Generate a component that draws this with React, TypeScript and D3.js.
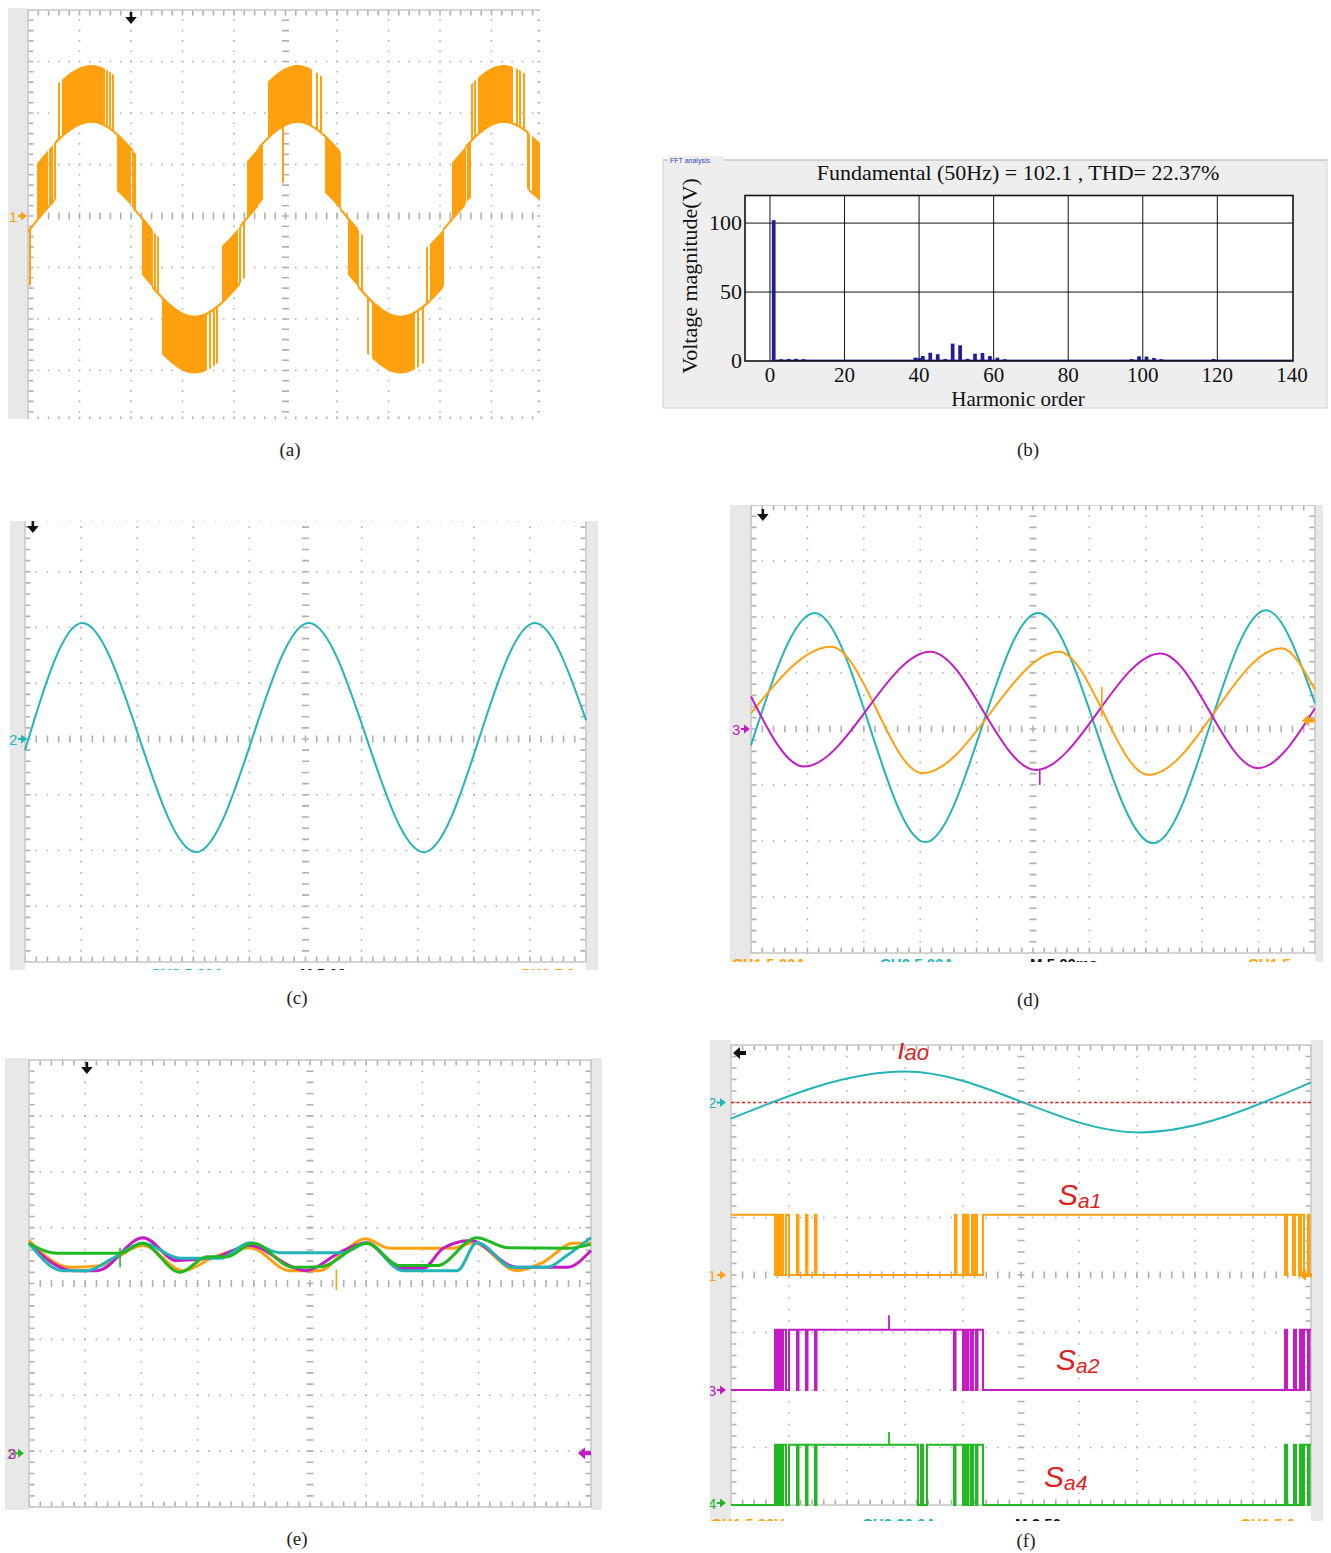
import React from 'react';
import * as d3 from 'd3';

const ORANGE = '#ffa10f';
const CYAN = '#22b5b8';
const MAGENTA = '#c41cc4';
const GREEN = '#22b822';
const RED = '#dd1f1f';
const NAVY = '#1e1e96';
const GRID = '#b0b0b0';
const FRAME = '#c6c6c6';
const STRIP = '#e8e8e8';
const SERIF = '"Liberation Serif", "Times New Roman", serif';
const SANS = '"Liberation Sans", Arial, sans-serif';

// all scope traces are in screen divisions: time 0..10, value -4..4
// sinusoid-like traces are given by their end points and extrema

// (a) multilevel output voltage
const aRipple = [[0, -0.3], [1.234, 0.73], [3.234, -0.86], [5.234, 0.73], [7.234, -0.86], [9.234, 0.73], [10, 0.27]];
const aStep = 1.1;
const aRest = [[0, 0], [0.52, 1], [2.04, 0], [2.41, -1], [4.12, 0], [4.47, 1], [6.06, 0], [6.41, -1], [8.06, 0], [8.49, 1], [9.73, 0]];
const aBursts = [[0.175, 0.388, 0], [0.66, 1.495, 1], [1.728, 2.0, 0], [2.214, 2.408, -1], [2.602, 3.476, -2], [3.767, 4.078, -1], [4.252, 4.466, 0], [4.66, 5.515, 1], [5.767, 6.058, 0], [6.214, 6.408, -1], [6.68, 7.515, -2], [7.806, 8.058, -1], [8.233, 8.485, 0], [8.738, 9.417, 1], [9.786, 9.94, 0]];
const aPulses = [[0.039, -1], [0.427, 0], [0.466, 0], [0.524, 0], [0.602, 1], [1.534, 1], [1.592, 1], [1.65, 1], [2.039, 0], [2.078, 0], [2.466, -1], [2.524, -1], [3.534, -2], [3.612, -2], [3.67, -2], [4.117, -1], [4.194, -1], [4.505, 0], [4.544, 0], [4.951, 0], [5.612, 1], [5.689, 1], [6.485, -1], [6.602, -2], [7.573, -2], [7.67, -2], [7.748, -1], [8.544, 0], [8.583, 0], [8.621, 1], [8.68, 1], [9.495, 1], [9.553, 1], [9.631, 1], [9.709, 0]];

// (b) FFT spectrum
const fftOrders = [1, 3, 5, 7, 9, 39, 40, 41, 43, 45, 47, 49, 51, 53, 55, 57, 59, 61, 63, 97, 99, 101, 103, 105, 119];
const fftMags = [102.1, 1.3, 1.5, 1.6, 1.3, 2.4, 2.2, 3.6, 6.0, 4.9, 1.5, 12.6, 11.4, 1.6, 5.3, 5.8, 3.6, 2.4, 1.3, 1.4, 3.4, 3.2, 2.2, 1.3, 1.5];
const fftFloor = 1.0;
const fftXTicks = [0, 20, 40, 60, 80, 100, 120, 140];
const fftYTicks = [0, 50, 100];

// (c) load current
const cCurrent = [[0, -0.2], [1.02, 2.08], [3.05, -2.03], [5.06, 2.08], [7.11, -2.03], [9.09, 2.08], [10, 0.34]];

// (d) three traces
const dCyan = [[0, -0.29], [1.13, 2.07], [3.09, -2.02], [5.09, 2.07], [7.13, -2.04], [9.13, 2.12], [10, 0.46]];
const dOrange = [[0, 0.28], [1.42, 1.47], [3.04, -0.79], [5.46, 1.38], [7.05, -0.82], [9.4, 1.44], [10, 0.7]];
const dMagenta = [[0, 0.58], [0.94, -0.67], [3.18, 1.38], [5.05, -0.73], [7.26, 1.35], [8.99, -0.7], [10, 0.37]];
const dOrangeSpikes = [[6.22, 0.22, 0.75]];
const dMagentaSpikes = [[5.12, -0.72, -1.0]];

// (e) four capacitor traces
const eOrange = [[0, 0.77], [0.73, 0.29], [1.26, 0.32], [2.03, 0.68], [2.74, 0.23], [3.31, 0.48], [3.93, 0.64], [4.64, 0.23], [5.18, 0.23], [5.62, 0.59], [5.98, 0.8], [6.42, 0.63], [7.54, 0.63], [7.9, 0.73], [8.68, 0.23], [9.15, 0.38], [9.68, 0.72], [10, 0.72]];
const eMagenta = [[0, 0.72], [0.78, 0.23], [1.21, 0.23], [2.03, 0.82], [2.63, 0.41], [3.31, 0.47], [3.93, 0.68], [4.7, 0.29], [4.91, 0.23], [5.59, 0.59], [6.01, 0.73], [6.6, 0.27], [7.01, 0.27], [7.37, 0.63], [7.85, 0.77], [8.68, 0.29], [9.57, 0.29], [10, 0.59]];
const eCyan = [[0, 0.72], [0.6, 0.23], [1.03, 0.23], [1.49, 0.45], [2.03, 0.72], [2.69, 0.45], [3.4, 0.45], [3.93, 0.73], [4.47, 0.55], [5.59, 0.55], [6.01, 0.72], [6.65, 0.23], [7.62, 0.23], [7.97, 0.73], [8.61, 0.29], [9.22, 0.29], [9.57, 0.5], [10, 0.82]];
const eGreen = [[0, 0.72], [0.5, 0.54], [1.62, 0.54], [2.01, 0.72], [2.69, 0.2], [3.17, 0.48], [3.52, 0.48], [3.99, 0.72], [4.7, 0.29], [5.18, 0.3], [6.01, 0.72], [6.6, 0.32], [7.26, 0.32], [7.97, 0.82], [8.51, 0.64], [9.57, 0.63], [10, 0.7]];
const eOrangeSpikes = [[5.47, 0.25, -0.12]];
const eGreenSpikes = [[1.62, 0.64, 0.29]];
const eGround = -3.04;

// (f) current and gate signals
const fCurrent = [[0, -0.28], [3.0, 0.54], [7.03, -0.52], [10, 0.35]];
const fIaoRef = 3.0;
const fHigh = 1.05;
const fSa1Edges = [0.759, 0.793, 0.828, 0.862, 0.897, 0.948, 1.0, 1.138, 1.164, 1.293, 1.319, 1.448, 1.474, 3.862, 3.888, 4.0, 4.034, 4.069, 4.095, 4.155, 4.19, 4.216, 4.241, 4.345, 9.552, 9.586, 9.69, 9.724, 9.793, 9.828, 9.879, 9.948, 9.974];
const fSa2Edges = [0.759, 0.793, 0.828, 0.862, 0.897, 0.948, 1.0, 1.138, 1.164, 1.293, 1.319, 1.448, 1.474, 3.845, 3.871, 4.0, 4.034, 4.069, 4.095, 4.138, 4.172, 4.224, 4.25, 4.345, 9.552, 9.586, 9.707, 9.741, 9.81, 9.845, 9.879, 9.948, 9.974];
const fSa4Edges = [0.759, 0.793, 0.828, 0.862, 0.897, 0.948, 1.0, 1.138, 1.164, 1.293, 1.319, 1.448, 1.474, 3.224, 3.276, 3.31, 3.379, 3.845, 3.871, 4.0, 4.034, 4.069, 4.095, 4.138, 4.172, 4.224, 4.25, 4.345, 9.552, 9.586, 9.707, 9.741, 9.81, 9.845, 9.879, 9.948, 9.974];
const fSa2Spikes = [[2.724, 0.25]];
const fSa4Spikes = [[2.724, 0.22]];

type Lin = d3.ScaleLinear<number, number>;
type Box = { x0: number; x1: number; y0: number; y1: number };

function Graticule({ x, y }: { x: Lin; y: Lin }) {
  const [gx0, gx1] = x.range();
  const [gy1, gy0] = y.range();
  const mx = (gx1 - gx0) / 50;
  const my = (gy1 - gy0) / 40;
  const dots = (m: number) => ({ strokeDasharray: `1.6 ${m - 1.6}`, strokeDashoffset: 0.8 });
  return (
    <g stroke={GRID}>
      {d3.range(1, 10).filter((c) => c !== 5).map((c) => (
        <line key={'c' + c} x1={x(c)} x2={x(c)} y1={gy0} y2={gy1} strokeWidth={1.6} {...dots(my)} />
      ))}
      {d3.range(-3, 4).filter((r) => r !== 0).map((r) => (
        <line key={'r' + r} x1={gx0} x2={gx1} y1={y(r)} y2={y(r)} strokeWidth={1.6} {...dots(mx)} />
      ))}
      <line x1={x(5)} x2={x(5)} y1={gy0} y2={gy1} strokeWidth={7} {...dots(my)} />
      <line x1={gx0} x2={gx1} y1={y(0)} y2={y(0)} strokeWidth={7} {...dots(mx)} />
      <line x1={gx0 + 3} x2={gx0 + 3} y1={gy0} y2={gy1} strokeWidth={5} {...dots(my)} />
      <line x1={gx1 - 3} x2={gx1 - 3} y1={gy0} y2={gy1} strokeWidth={5} {...dots(my)} />
      <line x1={gx0} x2={gx1} y1={gy0 + 3} y2={gy0 + 3} strokeWidth={5} {...dots(mx)} />
      <line x1={gx0} x2={gx1} y1={gy1 - 3} y2={gy1 - 3} strokeWidth={5} {...dots(mx)} />
      <rect x={gx0} y={gy0} width={gx1 - gx0} height={gy1 - gy0} fill="none" stroke={FRAME} strokeWidth={1.5} />
    </g>
  );
}

function Scope({ id, grid, view, strips, children }: { id: string; grid: Box; view: Box; strips: number[][]; children: (x: Lin, y: Lin) => React.ReactNode }) {
  const x = d3.scaleLinear().domain([0, 10]).range([grid.x0, grid.x1]);
  const y = d3.scaleLinear().domain([-4, 4]).range([grid.y1, grid.y0]);
  return (
    <g>
      <defs>
        <clipPath id={id}>
          <rect x={view.x0} y={view.y0} width={view.x1 - view.x0} height={view.y1 - view.y0} />
        </clipPath>
      </defs>
      <g clipPath={`url(#${id})`}>
        {strips.map(([a, b], i) => (
          <rect key={i} x={a} y={view.y0} width={b - a} height={view.y1 - view.y0} fill={STRIP} />
        ))}
        <Graticule x={x} y={y} />
        {children(x, y)}
      </g>
    </g>
  );
}

function ChMark({ x, y, label, color }: { x: number; y: number; label: string; color: string }) {
  return (
    <g fill={color}>
      <text x={x} y={y + 5.5} fontFamily={SANS} fontSize={15}>{label}</text>
      <path d={`M${x + 9} ${y - 1} h3 v-3.5 l6 4.5 l-6 4.5 v-3.5 h-3 z`} />
    </g>
  );
}

function LeftArrow({ x, y, color }: { x: number; y: number; color: string }) {
  return <path d={`M${x} ${y} l7 -6 v4 h6 v4 h-6 v4 z`} fill={color} />;
}

function Trigger({ x, y }: { x: number; y: number }) {
  return <path d={`M${x - 1.3} ${y} h2.6 v5 h4.5 l-5.8 7 l-5.8 -7 h4.5 z`} fill="#111" />;
}

function Footer({ items, y }: { items: [string, string, number][]; y: number }) {
  return (
    <g fontFamily={SANS} fontSize={15} fontWeight="bold">
      {items.map(([t, c, x], i) => (
        <text key={i} x={x} y={y} fill={c}>{t}</text>
      ))}
    </g>
  );
}

const traceLine = (x: Lin, y: Lin, off = 0) =>
  d3.line<number[]>().x((d) => x(d[0])).y((d) => y(d[1] + off)).curve(d3.curveMonotoneX);

function PanelA() {
  return (
    <Scope id="a" grid={{ x0: 28, x1: 543, y0: 10, y1: 422 }} view={{ x0: 8, x1: 540, y0: 8, y1: 419 }} strips={[[8, 28]]}>
      {(x, y) => {
        const lvl = (k: number) => traceLine(x, y, k * aStep)(aRipple) || '';
        const band = (k: number) =>
          d3.area<number[]>().x((d) => x(d[0])).y0((d) => y(d[1] + k * aStep)).y1((d) => y(d[1] + (k + 1) * aStep)).curve(d3.curveMonotoneX)(aRipple) || '';
        const rests = aRest.map(([t, k], i) => [t, i + 1 < aRest.length ? aRest[i + 1][0] : 10, k]);
        const edges = aRest.slice(1).map(([t, k], i) => [t, Math.min(k, aRest[i][1])]);
        const pulses = aPulses.concat(edges);
        const h = 460;
        return (
          <g>
            <defs>
              {rests.map(([t0, t1], i) => (
                <clipPath key={i} id={`a-r${i}`}><rect x={x(t0)} y={0} width={x(t1) - x(t0)} height={h} /></clipPath>
              ))}
              {aBursts.map(([t0, t1], i) => (
                <clipPath key={i} id={`a-b${i}`}><rect x={x(t0)} y={0} width={x(t1) - x(t0)} height={h} /></clipPath>
              ))}
              {pulses.map(([t], i) => (
                <clipPath key={i} id={`a-p${i}`}><rect x={x(t) - 0.9} y={0} width={1.8} height={h} /></clipPath>
              ))}
            </defs>
            {rests.map(([, , k], i) => (
              <path key={i} d={lvl(k)} clipPath={`url(#a-r${i})`} fill="none" stroke={ORANGE} strokeWidth={2.2} />
            ))}
            {aBursts.map(([, , k], i) => (
              <path key={i} d={band(k)} clipPath={`url(#a-b${i})`} fill={ORANGE} />
            ))}
            {pulses.map(([, k], i) => (
              <path key={i} d={band(k)} clipPath={`url(#a-p${i})`} fill={ORANGE} />
            ))}
            <ChMark x={9} y={y(0)} label="1" color={ORANGE} />
            <Trigger x={x(2)} y={12} />
          </g>
        );
      }}
    </Scope>
  );
}

function PanelB() {
  const x = d3.scaleLinear().domain([-6.7, 140.3]).range([745, 1293]);
  const y = d3.scaleLinear().domain([0, 120]).range([361, 195.5]);
  const bw = x(1) - x(0);
  return (
    <g>
      <rect x={663} y={160} width={664} height={248} fill="#eeeeee" stroke="#d2d2d2" />
      <line x1={663} x2={1327} y1={160} y2={160} stroke="#bdbdbd" />
      <rect x={668} y={156} width={56} height={8} fill="#eeeeee" />
      <text x={670} y={163} fontFamily={SANS} fontSize={7} fill="#3344cc">FFT analysis</text>
      <text x={1018} y={180} textAnchor="middle" fontFamily={SERIF} fontSize={22} fill="#111">
        Fundamental (50Hz) = 102.1 , THD= 22.37%
      </text>
      <rect x={745} y={195.5} width={548} height={165.5} fill="#fff" />
      {fftXTicks.slice(0, -1).map((t) => (
        <line key={t} x1={x(t)} x2={x(t)} y1={195.5} y2={361} stroke="#111" strokeWidth={1} />
      ))}
      {fftYTicks.slice(1).map((t) => (
        <line key={t} x1={745} x2={1293} y1={y(t)} y2={y(t)} stroke="#111" strokeWidth={1} />
      ))}
      <rect x={x(1.5)} y={y(fftFloor)} width={x(140) - x(1.5)} height={y(0) - y(fftFloor)} fill={NAVY} />
      {fftOrders.map((h, i) => (
        <rect key={h} x={x(h) - bw / 2} y={y(fftMags[i])} width={bw} height={y(0) - y(fftMags[i])} fill={NAVY} />
      ))}
      <rect x={745} y={195.5} width={548} height={165.5} fill="none" stroke="#111" strokeWidth={1.6} />
      <g fontFamily={SERIF} fontSize={21} fill="#111">
        {fftXTicks.map((t) => (
          <text key={t} x={x(t)} y={382} textAnchor="middle">{t}</text>
        ))}
        {fftYTicks.map((t) => (
          <text key={t} x={742} y={y(t) + 7} textAnchor="end" fontSize={22}>{t}</text>
        ))}
        <text x={1018} y={406} textAnchor="middle">Harmonic order</text>
        <text transform="translate(697,276) rotate(-90)" textAnchor="middle" fontSize={22}>Voltage magnitude(V)</text>
      </g>
    </g>
  );
}

function PanelC() {
  return (
    <Scope id="c" grid={{ x0: 25, x1: 586, y0: 516, y1: 962 }} view={{ x0: 10, x1: 598, y0: 521, y1: 970 }} strips={[[10, 25], [586, 598]]}>
      {(x, y) => (
        <g>
          <path d={traceLine(x, y)(cCurrent) || ''} fill="none" stroke={CYAN} strokeWidth={2} />
          <ChMark x={9} y={y(0)} label="2" color={CYAN} />
          <Trigger x={x(0.14)} y={521} />
          <Footer y={979} items={[['CH2  5.00A', CYAN, 150], ['M 5.00ms', '#111', 300], ['CH1  5.0', ORANGE, 520]]} />
        </g>
      )}
    </Scope>
  );
}

function PanelD() {
  return (
    <Scope id="d" grid={{ x0: 751, x1: 1315, y0: 505, y1: 953 }} view={{ x0: 730, x1: 1323, y0: 505, y1: 962 }} strips={[[730, 751], [1315, 1323]]}>
      {(x, y) => {
        const ln = (d: number[][]) => traceLine(x, y)(d) || '';
        return (
          <g>
            <path d={ln(dCyan)} fill="none" stroke={CYAN} strokeWidth={2} />
            <path d={ln(dOrange)} fill="none" stroke={ORANGE} strokeWidth={2} />
            <path d={ln(dMagenta)} fill="none" stroke={MAGENTA} strokeWidth={2} />
            {dOrangeSpikes.map(([t, a, b], i) => (
              <line key={i} x1={x(t)} x2={x(t)} y1={y(a)} y2={y(b)} stroke={ORANGE} strokeWidth={1.6} />
            ))}
            {dMagentaSpikes.map(([t, a, b], i) => (
              <line key={i} x1={x(t)} x2={x(t)} y1={y(a)} y2={y(b)} stroke={MAGENTA} strokeWidth={1.6} />
            ))}
            <ChMark x={732} y={y(0)} label="3" color={MAGENTA} />
            <LeftArrow x={1302} y={y(0.15)} color={ORANGE} />
            <Trigger x={x(0.21)} y={509} />
            <Footer y={969} items={[['CH1  5.00A', ORANGE, 732], ['CH2  5.00A', CYAN, 880], ['M 5.00ms', '#111', 1030], ['CH1  5', ORANGE, 1248]]} />
          </g>
        );
      }}
    </Scope>
  );
}

function PanelE() {
  return (
    <Scope id="e" grid={{ x0: 29, x1: 591, y0: 1060, y1: 1507 }} view={{ x0: 5, x1: 602, y0: 1058, y1: 1510 }} strips={[[5, 29], [591, 602]]}>
      {(x, y) => {
        const ln = (d: number[][]) => traceLine(x, y)(d) || '';
        return (
          <g>
            <path d={ln(eOrange)} fill="none" stroke={ORANGE} strokeWidth={3} />
            {eOrangeSpikes.map(([t, a, b], i) => (
              <line key={i} x1={x(t)} x2={x(t)} y1={y(a)} y2={y(b)} stroke={ORANGE} strokeWidth={1.6} />
            ))}
            <path d={ln(eMagenta)} fill="none" stroke={MAGENTA} strokeWidth={3} />
            <path d={ln(eCyan)} fill="none" stroke={CYAN} strokeWidth={3} />
            <path d={ln(eGreen)} fill="none" stroke={GREEN} strokeWidth={3} />
            {eGreenSpikes.map(([t, a, b], i) => (
              <line key={i} x1={x(t)} x2={x(t)} y1={y(a)} y2={y(b)} stroke={GREEN} strokeWidth={1.6} />
            ))}
            <text x={6} y={y(eGround) + 5.5} fontFamily={SANS} fontSize={15} fill={ORANGE}>1</text>
            <text x={7} y={y(eGround) + 5.5} fontFamily={SANS} fontSize={15} fill={CYAN}>2</text>
            <text x={8} y={y(eGround) + 5.5} fontFamily={SANS} fontSize={15} fill={MAGENTA}>3</text>
            <path d={`M${15} ${y(eGround) - 1} h3 v-3.5 l6 4.5 l-6 4.5 v-3.5 h-3 z`} fill={GREEN} />
            <LeftArrow x={578} y={y(eGround)} color={MAGENTA} />
            <Trigger x={x(1.03)} y={1062} />
          </g>
        );
      }}
    </Scope>
  );
}

function PanelF() {
  return (
    <Scope id="f" grid={{ x0: 731, x1: 1311, y0: 1045, y1: 1505 }} view={{ x0: 710, x1: 1323, y0: 1040, y1: 1521 }} strips={[[710, 731], [1311, 1323]]}>
      {(x, y) => {
        const steps = (edges: number[], start: number) => {
          let s = start;
          const pts = [[0, s]];
          edges.forEach((t) => {
            s = 1 - s;
            pts.push([t, s]);
          });
          pts.push([10, s]);
          return pts;
        };
        const gate = (edges: number[], start: number, off: number) =>
          d3.line<number[]>().x((d) => x(d[0])).y((d) => y(off + d[1] * fHigh)).curve(d3.curveStepAfter)(steps(edges, start)) || '';
        return (
          <g>
            <line x1={x(0)} x2={x(10)} y1={y(fIaoRef)} y2={y(fIaoRef)} stroke={RED} strokeWidth={1.6} strokeDasharray="3 2.5" />
            <path d={traceLine(x, y, fIaoRef)(fCurrent) || ''} fill="none" stroke={CYAN} strokeWidth={2} />
            <path d={gate(fSa1Edges, 1, 0)} fill="none" stroke={ORANGE} strokeWidth={2} />
            <path d={gate(fSa2Edges, 0, -2)} fill="none" stroke={MAGENTA} strokeWidth={2} />
            {fSa2Spikes.map(([t, h], i) => (
              <line key={i} x1={x(t)} x2={x(t)} y1={y(-2 + fHigh)} y2={y(-2 + fHigh + h)} stroke={MAGENTA} strokeWidth={1.8} />
            ))}
            <path d={gate(fSa4Edges, 0, -4)} fill="none" stroke={GREEN} strokeWidth={2} />
            {fSa4Spikes.map(([t, h], i) => (
              <line key={i} x1={x(t)} x2={x(t)} y1={y(-4 + fHigh)} y2={y(-4 + fHigh + h)} stroke={GREEN} strokeWidth={1.8} />
            ))}
            <ChMark x={708} y={y(fIaoRef)} label="2" color={CYAN} />
            <ChMark x={708} y={y(0)} label="1" color={ORANGE} />
            <ChMark x={708} y={y(-2)} label="3" color={MAGENTA} />
            <ChMark x={708} y={y(-4) - 2} label="4" color={GREEN} />
            <LeftArrow x={1299} y={y(0)} color={ORANGE} />
            <path d={`M${733} ${1053} l7 -6 v4 h6 v4 h-6 v4 z`} fill="#111" />
            <g fill={RED} fontFamily={SANS} fontStyle="italic">
              <text x={898} y={1059}>
                <tspan fontSize={29}>i</tspan>
                <tspan fontSize={22} dy={1}>ao</tspan>
              </text>
              <text x={1058} y={1205}>
                <tspan fontSize={30}>S</tspan>
                <tspan fontSize={21} dy={3}>a1</tspan>
              </text>
              <text x={1056} y={1370}>
                <tspan fontSize={30}>S</tspan>
                <tspan fontSize={21} dy={3}>a2</tspan>
              </text>
              <text x={1044} y={1487}>
                <tspan fontSize={30}>S</tspan>
                <tspan fontSize={21} dy={3}>a4</tspan>
              </text>
            </g>
            <Footer y={1529} items={[['CH1  5.00V', ORANGE, 711], ['CH2  20.0A', CYAN, 862], ['M 2.50ms', '#111', 1015], ['CH1  5.0', ORANGE, 1240]]} />
          </g>
        );
      }}
    </Scope>
  );
}

export default function App() {
  const tags: [string, number, number][] = [
    ['(a)', 290, 456],
    ['(b)', 1028, 456],
    ['(c)', 297, 1004],
    ['(d)', 1028, 1006],
    ['(e)', 297, 1545],
    ['(f)', 1026, 1547],
  ];
  return (
    <svg width={1331} height={1553} viewBox="0 0 1331 1553" style={{ position: 'absolute', left: 0, top: 0, display: 'block' }}>
      <rect width={1331} height={1553} fill="#fff" />
      <PanelA />
      <PanelB />
      <PanelC />
      <PanelD />
      <PanelE />
      <PanelF />
      <g fontFamily={SERIF} fontSize={19} fill="#222" textAnchor="middle">
        {tags.map(([t, x, y]) => (
          <text key={t} x={x} y={y}>{t}</text>
        ))}
      </g>
    </svg>
  );
}
